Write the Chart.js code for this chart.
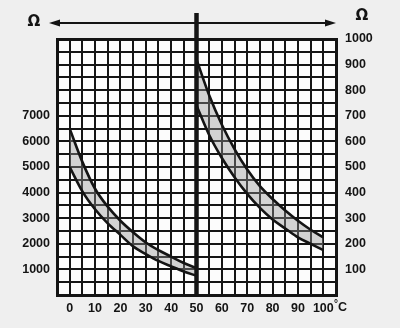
<!DOCTYPE html>
<html>
<head>
<meta charset="utf-8">
<script src="https://cdn.jsdelivr.net/npm/chart.js@4/dist/chart.umd.min.js"></script>
<style>
	html, body { margin: 0; padding: 0; background: #efefef; }
	canvas { display: block; }
</style>
</head>
<body>
<canvas id="chart" width="400" height="328"></canvas>
<script>
// ============= Data =============

// 0..50 °C, read against the left axis (Ω)
const leftTemps = [0, 5, 10, 15, 20, 25, 30, 35, 40, 45, 50];
const leftUpper = [6500, 5200, 4150, 3450, 2900, 2450, 2050, 1750, 1500, 1250, 1050];
const leftLower = [5000, 4050, 3350, 2800, 2350, 1900, 1600, 1330, 1120, 920, 750];

// 50..100 °C, read against the right axis (Ω)
const rightTemps = [50, 55, 60, 65, 70, 75, 80, 85, 90, 95, 100];
const rightUpper = [920, 780, 665, 570, 490, 425, 375, 330, 290, 255, 225];
const rightLower = [740, 625, 535, 460, 395, 340, 295, 260, 225, 200, 175];

const xLabels = [0, 10, 20, 30, 40, 50, 60, 70, 80, 90, 100];
const leftLabels = [1000, 2000, 3000, 4000, 5000, 6000, 7000];
const rightLabels = [100, 200, 300, 400, 500, 600, 700, 800, 900, 1000];

// ============= Utility =============

const INK = "#141414";
const FONT = "Liberation Sans";

function points(xs, ys)
{
	return xs.map((x, i) => ({ x, y: ys[i] }));
}

function curve(xs, ys, axis, fill)
{
	return {
		data: points(xs, ys),
		yAxisID: axis,
		borderColor: INK,
		borderWidth: 2.6,
		backgroundColor: "rgba(150, 150, 150, 0.4)",
		fill: fill,
		pointRadius: 0,
		cubicInterpolationMode: "monotone"
	};
}

function onlyLabels(list)
{
	return v => list.includes(v) ? String(v) : "";
}

function edgeWidth(min, max)
{
	return ctx => (ctx.tick && (ctx.tick.value === min || ctx.tick.value === max)) ? 3 : 2;
}

function arrow(ctx, x1, y, x2)
{
	const dir = Math.sign(x2 - x1);
	ctx.beginPath();
	ctx.moveTo(x1, y);
	ctx.lineTo(x2 - dir * 8, y);
	ctx.stroke();

	ctx.beginPath();
	ctx.moveTo(x2, y);
	ctx.lineTo(x2 - dir * 11, y - 3.5);
	ctx.lineTo(x2 - dir * 11, y + 3.5);
	ctx.closePath();
	ctx.fill();
}

// ============= Overlay =============

const overlay = {
	id: "overlay",
	beforeDraw(chart)
	{
		const { ctx, chartArea: a } = chart;
		ctx.save();
		ctx.fillStyle = "#fcfcfc";
		ctx.fillRect(a.left, a.top, a.right - a.left, a.bottom - a.top);
		ctx.restore();
	},
	afterDraw(chart)
	{
		const { ctx, chartArea: a, scales } = chart;
		const midX = scales.x.getPixelForValue(50);

		ctx.save();
		ctx.strokeStyle = INK;
		ctx.fillStyle = INK;

		// heavy divider between the two ranges
		ctx.lineWidth = 4.5;
		ctx.beginPath();
		ctx.moveTo(midX, 13);
		ctx.lineTo(midX, a.bottom);
		ctx.stroke();

		ctx.lineWidth = 1.8;
		arrow(ctx, midX, 23, 49);
		arrow(ctx, midX, 23, a.right);

		ctx.font = "bold 15px DejaVu Sans";
		ctx.textAlign = "center";
		ctx.textBaseline = "middle";
		ctx.fillText("Ω", 34, 22);
		ctx.fillText("Ω", 362, 16);

		ctx.textAlign = "left";
		ctx.font = `bold 12.5px ${FONT}`;
		ctx.fillText("C", 338, a.bottom + 13);
		ctx.font = `bold 10px ${FONT}`;
		ctx.fillText("°", 334, a.bottom + 9);
		ctx.restore();
	}
};

// ============= Chart =============

Chart.defaults.font.family = FONT;
Chart.defaults.font.size = 12.5;
Chart.defaults.font.weight = "bold";
Chart.defaults.color = INK;

new Chart(document.getElementById("chart"), {
	type: "line",
	data: {
		datasets: [
			curve(leftTemps, leftUpper, "y", false),
			curve(leftTemps, leftLower, "y", "-1"),
			curve(rightTemps, rightUpper, "y2", false),
			curve(rightTemps, rightLower, "y2", "-1")
		]
	},
	plugins: [overlay],
	options: {
		responsive: false,
		animation: false,
		devicePixelRatio: 1,
		layout: { padding: { top: 39 } },
		plugins: { legend: { display: false }, tooltip: { enabled: false } },
		scales: {
			x: {
				type: "linear",
				min: -5,
				max: 105,
				ticks: { stepSize: 5, autoSkip: false, maxRotation: 0, padding: 6, callback: onlyLabels(xLabels) },
				grid: { color: INK, lineWidth: edgeWidth(-5, 105), drawTicks: false },
				border: { color: INK, width: 3 },
				afterFit: s => { s.height = 33; }
			},
			y: {
				position: "left",
				min: 0,
				max: 10000,
				ticks: { stepSize: 500, autoSkip: false, padding: 7, callback: onlyLabels(leftLabels) },
				grid: { color: INK, lineWidth: edgeWidth(0, 10000), drawTicks: false },
				border: { color: INK, width: 3 },
				afterFit: s => { s.width = 57; }
			},
			y2: {
				position: "right",
				min: 0,
				max: 1000,
				ticks: { stepSize: 50, autoSkip: false, padding: 9, callback: onlyLabels(rightLabels) },
				grid: { drawOnChartArea: false, drawTicks: false },
				border: { color: INK, width: 3 },
				afterFit: s => { s.width = 64; }
			}
		}
	}
});
</script>
</body>
</html>
